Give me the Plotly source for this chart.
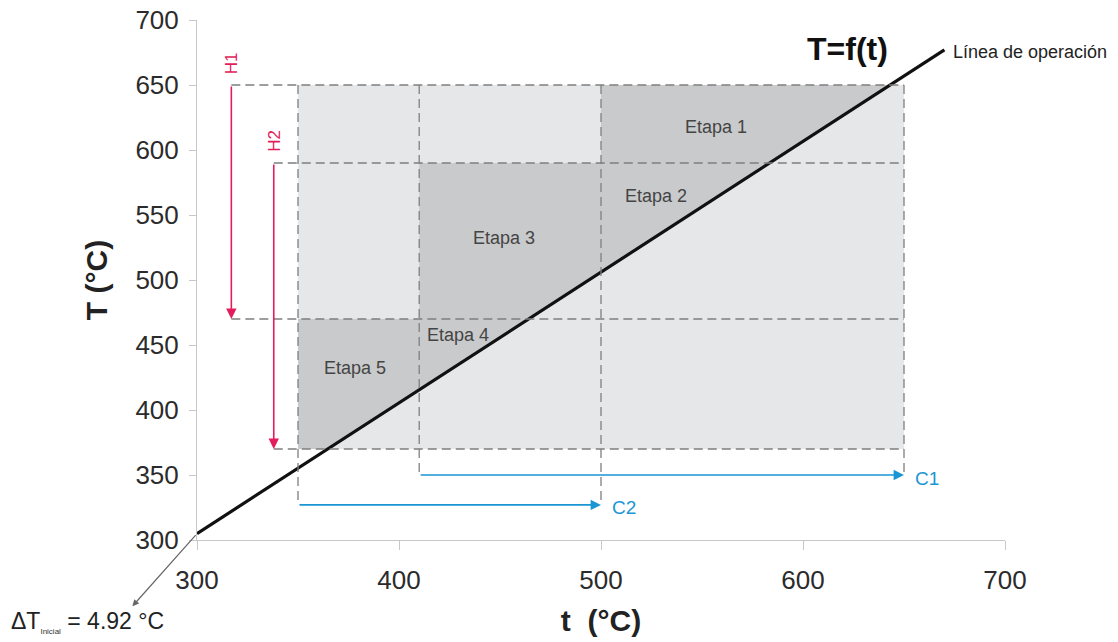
import plotly.graph_objects as go

# Operating line T = f(t): two end points
line_t = [300, 670]
line_T = [304.92, 677]

# Stage grid: column edges (t) and row edges (T)
col_edges = [350, 410, 500, 650]
row_edges = [370, 470, 590, 650]

# Staircase upper limit per column
step_tops = [470, 590, 650]

# Hot streams (t position, T start, T end)
hot_names = ["H1", "H2"]
hot_t = [317, 338]
hot_T_start = [650, 590]
hot_T_end = [470, 370]

# Cold streams (T position, t start, t end)
cold_names = ["C1", "C2"]
cold_T = [350, 327]
cold_t_start = [410, 350]
cold_t_end = [650, 500]

# Stage labels and positions
stage_labels = ["Etapa 1", "Etapa 2", "Etapa 3", "Etapa 4", "Etapa 5"]
stage_t = [557, 527, 452, 429, 378]
stage_T = [618, 565, 532, 458, 432]

# Title of the operating line and its position
func_label = "T=f(t)"
func_label_t = 622
func_label_T = 678

dT_initial = 4.92
dT_arrow_tip = (268, 249)

slope = (line_T[1] - line_T[0]) / (line_t[1] - line_t[0])


def f_inv(T):
    return line_t[0] + (T - line_T[0]) / slope


LIGHT = "#e6e7e9"
DARK = "#c9cacc"
DASH = "#7f7f7f"
RED = "#e31c5c"
BLUE = "#1a96d4"
FONT = "Liberation Sans, Arial, sans-serif"

fig = go.Figure()

# Outer light area
fig.add_shape(type="rect", xref="x", yref="y",
              x0=col_edges[0], x1=col_edges[-1], y0=row_edges[0], y1=row_edges[-1],
              fillcolor=LIGHT, line_width=0, layer="below")

# Dark area: staircase region above the operating line
poly_t = [col_edges[0], col_edges[0]]
poly_T = [row_edges[0], step_tops[0]]
for i in range(len(step_tops)):
    poly_t += [col_edges[i + 1]]
    poly_T += [step_tops[i]]
    if i + 1 < len(step_tops):
        poly_t += [col_edges[i + 1]]
        poly_T += [step_tops[i + 1]]
# trim last corner to the operating line
poly_t[-1] = f_inv(step_tops[-1])
poly_t += [f_inv(row_edges[0]), col_edges[0]]
poly_T += [row_edges[0], row_edges[0]]
fig.add_trace(go.Scatter(x=poly_t, y=poly_T, fill="toself", fillcolor=DARK,
                         mode="lines", line=dict(width=0), hoverinfo="skip",
                         showlegend=False))

# Dashed grid lines
dash = dict(color=DASH, width=1.3, dash="9px,5px")
h_starts = [hot_t[0], hot_t[1], hot_t[0], hot_t[1]]
for T, t0 in zip([650, 590, 470, 370], h_starts):
    fig.add_shape(type="line", xref="x", yref="y", x0=t0, x1=col_edges[-1],
                  y0=T, y1=T, line=dash)
v_ends = [cold_T[1], cold_T[0], cold_T[1], cold_T[0]]
for t, T0 in zip(col_edges, v_ends):
    fig.add_shape(type="line", xref="x", yref="y", x0=t, x1=t,
                  y0=row_edges[-1], y1=T0, line=dash)

# Operating line
fig.add_trace(go.Scatter(x=line_t, y=line_T, mode="lines",
                         line=dict(color="#111111", width=3.2),
                         hoverinfo="skip", showlegend=False, cliponaxis=False))

annotations = []

# Hot stream arrows
for name, t, T0, T1 in zip(hot_names, hot_t, hot_T_start, hot_T_end):
    annotations.append(dict(x=t, y=T1, ax=t, ay=T0, xref="x", yref="y",
                            axref="x", ayref="y", text="", showarrow=True,
                            arrowhead=2, arrowsize=1.3, arrowwidth=1.6,
                            arrowcolor=RED, standoff=0))
    annotations.append(dict(x=t, y=T0, xref="x", yref="y", text=name,
                            showarrow=False, textangle=-90, yanchor="bottom",
                            yshift=9, font=dict(family=FONT, size=17, color=RED)))

# Cold stream arrows
for name, T, t0, t1 in zip(cold_names, cold_T, cold_t_start, cold_t_end):
    annotations.append(dict(x=t1, y=T, ax=t0, ay=T, xref="x", yref="y",
                            axref="x", ayref="y", text="", showarrow=True,
                            arrowhead=2, arrowsize=1.3, arrowwidth=1.6,
                            arrowcolor=BLUE, standoff=0))
    annotations.append(dict(x=t1, y=T, xref="x", yref="y", text=name,
                            showarrow=False, xanchor="left", xshift=9,
                            yshift=-3, font=dict(family=FONT, size=19, color=BLUE)))

# Stage labels
for lab, t, T in zip(stage_labels, stage_t, stage_T):
    annotations.append(dict(x=t, y=T, xref="x", yref="y", text=lab,
                            showarrow=False,
                            font=dict(family=FONT, size=18, color="#444444")))

# Line labels
annotations.append(dict(x=line_t[1], y=line_T[1], xref="x", yref="y",
                        text="Línea de operación", showarrow=False,
                        xanchor="left", xshift=7, yshift=-2,
                        font=dict(family=FONT, size=18, color="#222222")))
annotations.append(dict(x=func_label_t, y=func_label_T, xref="x", yref="y",
                        text=f"<b>{func_label}</b>", showarrow=False,
                        font=dict(family=FONT, size=32, color="#111111")))

# Initial temperature difference callout
annotations.append(dict(x=dT_arrow_tip[0], y=dT_arrow_tip[1],
                        ax=line_t[0], ay=line_T[0], xref="x", yref="y",
                        axref="x", ayref="y", text="", showarrow=True,
                        arrowhead=2, arrowsize=1.1, arrowwidth=1.2,
                        arrowcolor="#666666", standoff=0))
annotations.append(dict(x=-0.233, y=-0.158, xref="paper", yref="paper",
                        xanchor="left", yanchor="middle", showarrow=False,
                        text=f"ΔT<sub><span style='font-size:8px;color:#333333'>Inicial</span></sub> = {dT_initial} °C",
                        font=dict(family=FONT, size=23, color="#222222")))

fig.update_layout(
    width=1118, height=642,
    margin=dict(l=197, r=113, t=20, b=102),
    paper_bgcolor="white", plot_bgcolor="white",
    annotations=annotations,
    font=dict(family=FONT, color="#333333"),
)
fig.update_xaxes(range=[300, 700], tickvals=[300, 400, 500, 600, 700],
                 showgrid=False, zeroline=False, showline=True, automargin=False,
                 linecolor="#c8c8c8", linewidth=1, ticks="outside",
                 ticklen=9, tickcolor="#c8c8c8", ticklabelstandoff=8,
                 tickfont=dict(family=FONT, size=26, color="#2b2b2b"),
                 title=dict(text="<b>t  (°C)</b>", standoff=15,
                            font=dict(family=FONT, size=30, color="#222222")))
fig.update_yaxes(range=[300, 700], tickvals=[300, 350, 400, 450, 500, 550, 600, 650, 700],
                 showgrid=False, zeroline=False, showline=True, automargin=False,
                 linecolor="#c8c8c8", linewidth=1, ticks="outside",
                 ticklen=7, tickcolor="#c8c8c8", ticklabelstandoff=5,
                 tickfont=dict(family=FONT, size=26, color="#2b2b2b"),
                 title=dict(text="<b>T (°C)</b>", standoff=18,
                            font=dict(family=FONT, size=30, color="#222222")))

fig.write_html("out.html")
